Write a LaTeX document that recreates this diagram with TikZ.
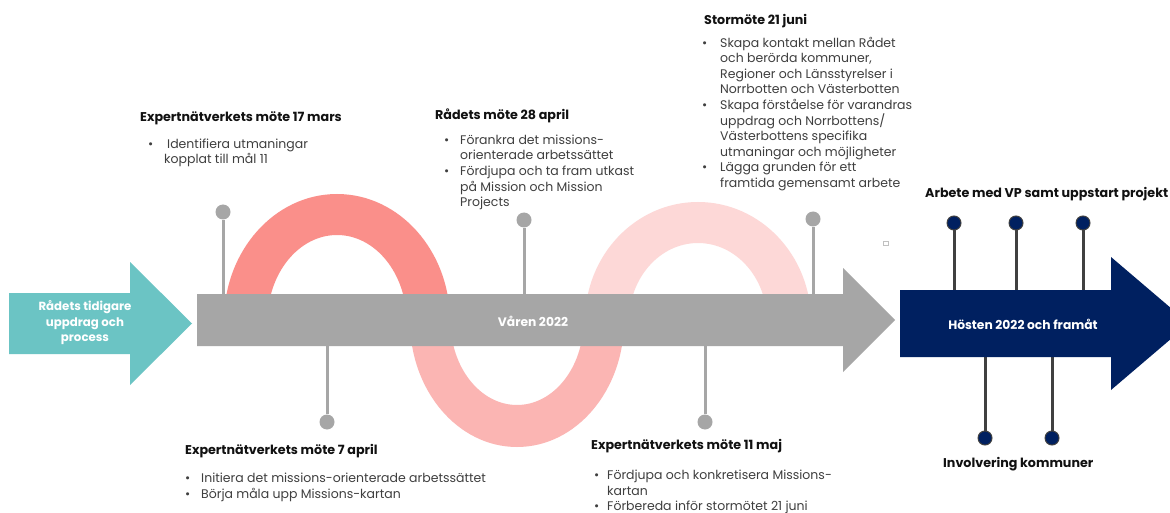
\documentclass[tikz,border=0pt]{standalone}
\usepackage{fontspec}
\setmainfont{Poppins}
\definecolor{arcA}{HTML}{FA8F8A}
\definecolor{arcB}{HTML}{FBB5B3}
\definecolor{arcC}{HTML}{FDD8D7}
\definecolor{graya}{HTML}{A6A6A6}
\definecolor{tealc}{HTML}{6BC4C4}
\definecolor{navyc}{HTML}{002060}
\definecolor{stemd}{HTML}{404040}
\definecolor{bodyc}{HTML}{3F3F3F}
\definecolor{titlec}{HTML}{111111}
\newcommand\bul[1]{\makebox[#1pt][l]{\textbullet}}
\newcommand\ind[1]{\hspace*{#1pt}}
\begin{document}
\begin{tikzpicture}[x=1pt,y=-1pt,
  ttl/.style={font=\bfseries\fontsize{12.7}{14}\selectfont, text=titlec, inner sep=0pt, anchor=west},
  bodytxt/.style={font=\fontsize{12.5}{15.7}\selectfont, text=bodyc, inner sep=0pt, anchor=north west, align=left},
  lbl/.style={font=\bfseries\fontsize{12.3}{15.5}\selectfont, text=white, inner sep=0pt, align=center},
  gpin/.style={circle, fill=graya, inner sep=0pt, minimum size=15pt},
  npin/.style={circle, fill=navyc, draw=stemd, line width=1pt, inner sep=0pt, minimum size=14pt},
  gstem/.style={draw=graya, line width=3pt},
  nstem/.style={draw=stemd, line width=3pt}]
\clip (0,0) rectangle (1170,513);
\fill[white] (0,0) rectangle (1170,513);
% half rings
\begin{scope}
  \clip (0,0) rectangle (1170,321);
  \fill[arcA, even odd rule] (337,321) ellipse [x radius=113pt, y radius=127pt]
     (337,321) ellipse [x radius=69.5pt, y radius=86pt];
  \fill[arcC, even odd rule] (698,321) ellipse [x radius=113pt, y radius=119pt]
     (698,321) ellipse [x radius=69pt, y radius=78pt];
\end{scope}
\begin{scope}
  \clip (0,321) rectangle (1170,513);
  \fill[arcB, even odd rule] (517,321) ellipse [x radius=107pt, y radius=126pt]
     (517,321) ellipse [x radius=66.5pt, y radius=84pt];
\end{scope}
% gray pins
\node[gpin] (g1) at (223,212) {};
\node[gpin] (g2) at (327,422) {};
\node[gpin] (g3) at (524,220) {};
\node[gpin] (g4) at (705,422) {};
\node[gpin] (g5) at (813,219) {};
\coordinate (g1e) at (223,300);
\coordinate (g2e) at (327,340);
\coordinate (g3e) at (524,300);
\coordinate (g4e) at (705,340);
\coordinate (g5e) at (813,300);
\foreach \p in {g1,g2,g3,g4,g5} {\draw[gstem] (\p) -- (\p e);}
% navy pins
\node[npin] (n1) at (954,223) {};
\node[npin] (n2) at (1016,223) {};
\node[npin] (n3) at (1083,223) {};
\node[npin] (n4) at (985,438) {};
\node[npin] (n5) at (1052,438) {};
\coordinate (n1e) at (954,300);
\coordinate (n2e) at (1016,300);
\coordinate (n3e) at (1083,300);
\coordinate (n4e) at (985,345);
\coordinate (n5e) at (1052,345);
\foreach \p in {n1,n2,n3,n4,n5} {\draw[nstem] (\p) -- (\p e);}
% arrows
\fill[tealc] (9,293) -- (130,293) -- (130,262) -- (192,323.5) -- (130,385) -- (130,354) -- (9,354) -- cycle;
\fill[graya] (197,294) -- (843,294) -- (843,268) -- (895,320) -- (843,372) -- (843,346) -- (197,346) -- cycle;
\fill[navyc] (900,290) -- (1111,290) -- (1111,257) -- (1189,323.5) -- (1111,390) -- (1111,357) -- (900,357) -- cycle;
\draw[graya!70, line width=0.6pt] (883,241) rectangle (888,245);
% arrow labels
\node[lbl, font=\bfseries\fontsize{11.8}{15.5}\selectfont] (la) at (85,323) {Rådets tidigare\\uppdrag och\\process};
\node[lbl] (lb) at (533,321) {Våren 2022};
\node[lbl] (lc) at (1023,324) {Hösten 2022 och framåt};
% titles
\node[ttl] (t1) at (140,118) {Expertnätverkets möte 17 mars};
\node[ttl] (t2) at (435,116) {Rådets möte 28 april};
\node[ttl] (t3) at (704,21) {Stormöte 21 juni};
\node[ttl] (t4) at (185,451) {Expertnätverkets möte 7 april};
\node[ttl] (t5) at (591,446) {Expertnätverkets möte 11 maj};
\node[ttl] (t6) at (925,194) {Arbete med VP samt uppstart projekt};
\node[ttl] (t7) at (943,464) {Involvering kommuner};
% bodies
\node[bodytxt] (b1) at (148,137) {\strut\bul{16}\hspace{3pt}Identifiera utmaningar\\\ind{16}kopplat till mål 11};
\node[bodytxt] (b2) at (444,133) {\strut\bul{16}Förankra det missions-\\\ind{16}orienterade arbetssättet\\\bul{16}Fördjupa och ta fram utkast\\\ind{16}på Mission och Mission\\\ind{16}Projects};
\node[bodytxt, font=\fontsize{12.5}{15.6}\selectfont] (b3) at (702,36) {\strut\bul{18}Skapa kontakt mellan Rådet\\\ind{18}och berörda kommuner,\\\ind{18}Regioner och Länsstyrelser i\\\ind{18}Norrbotten och Västerbotten\\\bul{18}Skapa förståelse för varandras\\\ind{18}uppdrag och Norrbottens/\\\ind{18}Västerbottens specifika\\\ind{18}utmaningar och möjligheter\\\bul{18}Lägga grunden för ett\\\ind{18}framtida gemensamt arbete};
\node[bodytxt, font=\fontsize{12.5}{16}\selectfont] (b4) at (185,471) {\strut\bul{16}Initiera det missions-orienterade arbetssättet\\\bul{16}Börja måla upp Missions-kartan};
\node[bodytxt, font=\fontsize{12.5}{15.2}\selectfont] (b5) at (594,469) {\strut\bul{13}Fördjupa och konkretisera Missions-\\\ind{13}kartan\\\bul{13}Förbereda inför stormötet 21 juni};
\end{tikzpicture}
\end{document}
